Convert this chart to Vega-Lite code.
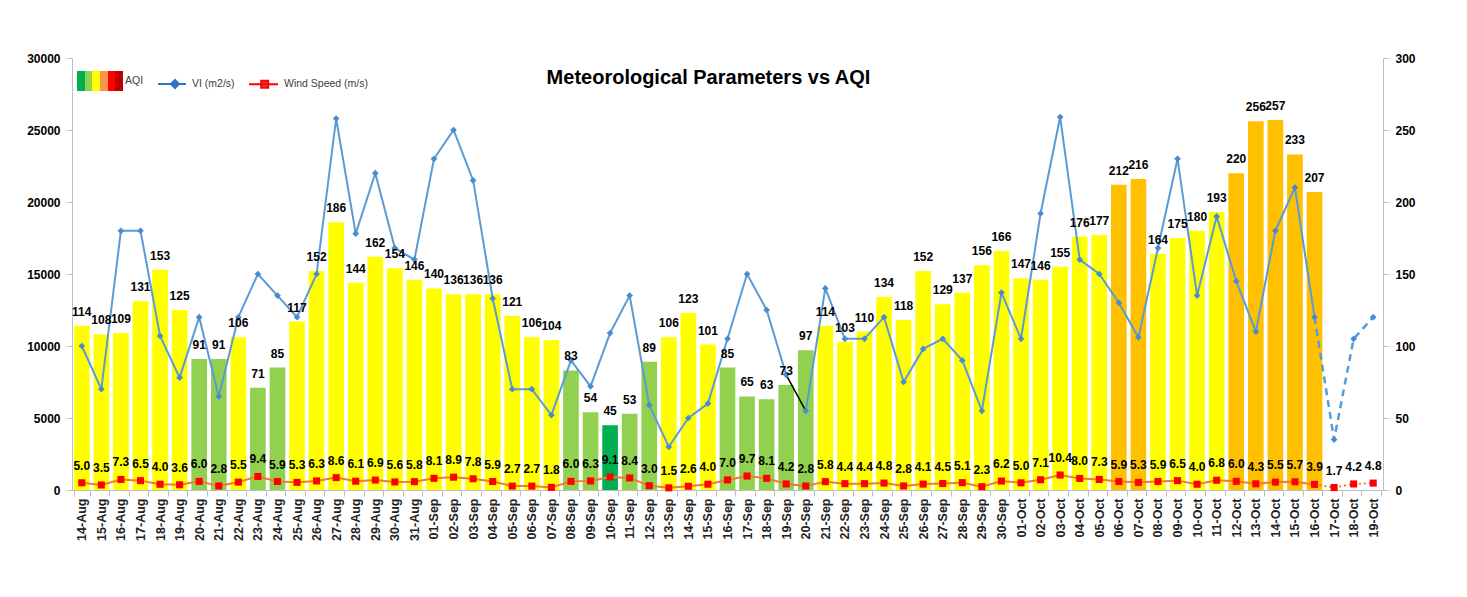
{
  "$schema": "https://vega.github.io/schema/vega-lite/v6.json",
  "width": 1311,
  "height": 432,
  "autosize": "none",
  "padding": {"left": 72, "top": 58, "right": 84, "bottom": 107},
  "background": "white",
  "title": {"text": "Meteorological Parameters vs AQI", "anchor": "middle", "orient": "top", "offset": 0, "dy": 52, "baseline": "alphabetic", "dx": -19, "font": "Liberation Sans", "fontSize": 20, "fontWeight": "bold", "color": "#000000"},
  "config": {
    "view": {"stroke": null},
    "axis": {"grid": false, "domainColor": "#BFBFBF", "tickColor": "#BFBFBF", "labelFont": "Liberation Sans", "labelFontWeight": "bold", "labelColor": "#000000", "titleFontSize": 0}
  },
  "datasets": {
    "main": [
      {"d":"14-Aug","i":0,"aqi":114,"band":"Moderate","vi":10000,"ws":5.0},
      {"d":"15-Aug","i":1,"aqi":108,"band":"Moderate","vi":7000,"ws":3.5},
      {"d":"16-Aug","i":2,"aqi":109,"band":"Moderate","vi":18000,"ws":7.3},
      {"d":"17-Aug","i":3,"aqi":131,"band":"Moderate","vi":18000,"ws":6.5},
      {"d":"18-Aug","i":4,"aqi":153,"band":"Moderate","vi":10700,"ws":4.0},
      {"d":"19-Aug","i":5,"aqi":125,"band":"Moderate","vi":7800,"ws":3.6},
      {"d":"20-Aug","i":6,"aqi":91,"band":"Satisfactory","vi":12000,"ws":6.0},
      {"d":"21-Aug","i":7,"aqi":91,"band":"Satisfactory","vi":6500,"ws":2.8},
      {"d":"22-Aug","i":8,"aqi":106,"band":"Moderate","vi":12000,"ws":5.5},
      {"d":"23-Aug","i":9,"aqi":71,"band":"Satisfactory","vi":15000,"ws":9.4},
      {"d":"24-Aug","i":10,"aqi":85,"band":"Satisfactory","vi":13500,"ws":5.9},
      {"d":"25-Aug","i":11,"aqi":117,"band":"Moderate","vi":12000,"ws":5.3},
      {"d":"26-Aug","i":12,"aqi":152,"band":"Moderate","vi":15000,"ws":6.3},
      {"d":"27-Aug","i":13,"aqi":186,"band":"Moderate","vi":25800,"ws":8.6},
      {"d":"28-Aug","i":14,"aqi":144,"band":"Moderate","vi":17800,"ws":6.1},
      {"d":"29-Aug","i":15,"aqi":162,"band":"Moderate","vi":22000,"ws":6.9},
      {"d":"30-Aug","i":16,"aqi":154,"band":"Moderate","vi":16800,"ws":5.6},
      {"d":"31-Aug","i":17,"aqi":146,"band":"Moderate","vi":16000,"ws":5.8},
      {"d":"01-Sep","i":18,"aqi":140,"band":"Moderate","vi":23000,"ws":8.1},
      {"d":"02-Sep","i":19,"aqi":136,"band":"Moderate","vi":25000,"ws":8.9},
      {"d":"03-Sep","i":20,"aqi":136,"band":"Moderate","vi":21500,"ws":7.8},
      {"d":"04-Sep","i":21,"aqi":136,"band":"Moderate","vi":13300,"ws":5.9},
      {"d":"05-Sep","i":22,"aqi":121,"band":"Moderate","vi":7000,"ws":2.7},
      {"d":"06-Sep","i":23,"aqi":106,"band":"Moderate","vi":7000,"ws":2.7},
      {"d":"07-Sep","i":24,"aqi":104,"band":"Moderate","vi":5200,"ws":1.8},
      {"d":"08-Sep","i":25,"aqi":83,"band":"Satisfactory","vi":9000,"ws":6.0},
      {"d":"09-Sep","i":26,"aqi":54,"band":"Satisfactory","vi":7200,"ws":6.3},
      {"d":"10-Sep","i":27,"aqi":45,"band":"Good","vi":10900,"ws":9.1},
      {"d":"11-Sep","i":28,"aqi":53,"band":"Satisfactory","vi":13500,"ws":8.4},
      {"d":"12-Sep","i":29,"aqi":89,"band":"Satisfactory","vi":5900,"ws":3.0},
      {"d":"13-Sep","i":30,"aqi":106,"band":"Moderate","vi":3000,"ws":1.5},
      {"d":"14-Sep","i":31,"aqi":123,"band":"Moderate","vi":5000,"ws":2.6},
      {"d":"15-Sep","i":32,"aqi":101,"band":"Moderate","vi":6000,"ws":4.0},
      {"d":"16-Sep","i":33,"aqi":85,"band":"Satisfactory","vi":10500,"ws":7.0},
      {"d":"17-Sep","i":34,"aqi":65,"band":"Satisfactory","vi":15000,"ws":9.7},
      {"d":"18-Sep","i":35,"aqi":63,"band":"Satisfactory","vi":12500,"ws":8.1},
      {"d":"19-Sep","i":36,"aqi":73,"band":"Satisfactory","vi":8000,"ws":4.2},
      {"d":"20-Sep","i":37,"aqi":97,"band":"Satisfactory","vi":5500,"ws":2.8},
      {"d":"21-Sep","i":38,"aqi":114,"band":"Moderate","vi":14000,"ws":5.8},
      {"d":"22-Sep","i":39,"aqi":103,"band":"Moderate","vi":10500,"ws":4.4},
      {"d":"23-Sep","i":40,"aqi":110,"band":"Moderate","vi":10500,"ws":4.4},
      {"d":"24-Sep","i":41,"aqi":134,"band":"Moderate","vi":12000,"ws":4.8},
      {"d":"25-Sep","i":42,"aqi":118,"band":"Moderate","vi":7500,"ws":2.8},
      {"d":"26-Sep","i":43,"aqi":152,"band":"Moderate","vi":9800,"ws":4.1},
      {"d":"27-Sep","i":44,"aqi":129,"band":"Moderate","vi":10500,"ws":4.5},
      {"d":"28-Sep","i":45,"aqi":137,"band":"Moderate","vi":9000,"ws":5.1},
      {"d":"29-Sep","i":46,"aqi":156,"band":"Moderate","vi":5500,"ws":2.3},
      {"d":"30-Sep","i":47,"aqi":166,"band":"Moderate","vi":13700,"ws":6.2},
      {"d":"01-Oct","i":48,"aqi":147,"band":"Moderate","vi":10500,"ws":5.0},
      {"d":"02-Oct","i":49,"aqi":146,"band":"Moderate","vi":19200,"ws":7.1},
      {"d":"03-Oct","i":50,"aqi":155,"band":"Moderate","vi":25900,"ws":10.4},
      {"d":"04-Oct","i":51,"aqi":176,"band":"Moderate","vi":16000,"ws":8.0},
      {"d":"05-Oct","i":52,"aqi":177,"band":"Moderate","vi":15000,"ws":7.3},
      {"d":"06-Oct","i":53,"aqi":212,"band":"Poor","vi":13000,"ws":5.9},
      {"d":"07-Oct","i":54,"aqi":216,"band":"Poor","vi":10600,"ws":5.3},
      {"d":"08-Oct","i":55,"aqi":164,"band":"Moderate","vi":16800,"ws":5.9},
      {"d":"09-Oct","i":56,"aqi":175,"band":"Moderate","vi":23000,"ws":6.5},
      {"d":"10-Oct","i":57,"aqi":180,"band":"Moderate","vi":13500,"ws":4.0},
      {"d":"11-Oct","i":58,"aqi":193,"band":"Moderate","vi":19000,"ws":6.8},
      {"d":"12-Oct","i":59,"aqi":220,"band":"Poor","vi":14500,"ws":6.0},
      {"d":"13-Oct","i":60,"aqi":256,"band":"Poor","vi":11000,"ws":4.3},
      {"d":"14-Oct","i":61,"aqi":257,"band":"Poor","vi":18000,"ws":5.5},
      {"d":"15-Oct","i":62,"aqi":233,"band":"Poor","vi":21000,"ws":5.7},
      {"d":"16-Oct","i":63,"aqi":207,"band":"Poor","vi":12000,"ws":3.9},
      {"d":"17-Oct","i":64,"aqi":null,"band":null,"vi":3500,"ws":1.7},
      {"d":"18-Oct","i":65,"aqi":null,"band":null,"vi":10500,"ws":4.2},
      {"d":"19-Oct","i":66,"aqi":null,"band":null,"vi":12000,"ws":4.8}
    ]
  },
  "data": {"name": "main"},
  "encoding": {
    "x": {
      "field": "d", "type": "ordinal", "title": null,
      "scale": {
        "domain": ["14-Aug","15-Aug","16-Aug","17-Aug","18-Aug","19-Aug","20-Aug","21-Aug","22-Aug","23-Aug","24-Aug","25-Aug","26-Aug","27-Aug","28-Aug","29-Aug","30-Aug","31-Aug","01-Sep","02-Sep","03-Sep","04-Sep","05-Sep","06-Sep","07-Sep","08-Sep","09-Sep","10-Sep","11-Sep","12-Sep","13-Sep","14-Sep","15-Sep","16-Sep","17-Sep","18-Sep","19-Sep","20-Sep","21-Sep","22-Sep","23-Sep","24-Sep","25-Sep","26-Sep","27-Sep","28-Sep","29-Sep","30-Sep","01-Oct","02-Oct","03-Oct","04-Oct","05-Oct","06-Oct","07-Oct","08-Oct","09-Oct","10-Oct","11-Oct","12-Oct","13-Oct","14-Oct","15-Oct","16-Oct","17-Oct","18-Oct","19-Oct"],
        "paddingInner": 0.2, "paddingOuter": 0.1
      },
      "axis": {"labelAngle": -90, "tickBand": "extent", "labelFontSize": 12.5, "labelColor": "#222222", "tickSize": 6, "labelPadding": 2, "title": null}
    }
  },
  "layer": [
    {
      "transform": [{"filter": {"field": "aqi", "valid": true}}],
      "mark": {"type": "bar"},
      "encoding": {
        "y": {"field": "aqi", "type": "quantitative", "scale": {"domain": [0, 300]}, "axis": {"orient": "right", "values": [0,50,100,150,200,250,300], "title": null, "labelFontSize": 12, "tickSize": 5, "labelPadding": 7}},
        "fill": {"field": "band", "type": "nominal", "scale": {"domain": ["Good","Satisfactory","Moderate","Poor"], "range": ["#00B050","#92D050","#FFFF00","#FFC000"]}, "legend": null}
      }
    },
    {
      "encoding": {
        "y": {"field": "vi", "type": "quantitative", "scale": {"domain": [0, 30000]}, "axis": {"orient": "left", "values": [0,5000,10000,15000,20000,25000,30000], "format": "d", "title": null, "labelFontSize": 12, "tickSize": 5, "labelPadding": 7}},
        "order": {"field": "i", "type": "quantitative"}
      },
      "layer": [
        {"transform": [{"filter": {"field": "i", "range": [0, 36]}}], "mark": {"type": "line", "color": "#5B9BD5", "strokeWidth": 2}},
        {"transform": [{"filter": {"field": "i", "range": [36, 37]}}], "mark": {"type": "line", "color": "#000000", "strokeWidth": 1.5}},
        {"transform": [{"filter": {"field": "i", "range": [37, 63]}}], "mark": {"type": "line", "color": "#5B9BD5", "strokeWidth": 2}},
        {"transform": [{"filter": {"field": "i", "range": [63, 66]}}], "mark": {"type": "line", "color": "#5B9BD5", "strokeWidth": 2.5, "strokeDash": [7, 5]}},
        {"mark": {"type": "point", "shape": "diamond", "filled": true, "color": "#4A8BCF", "size": 45, "opacity": 1}}
      ]
    },
    {
      "encoding": {
        "y": {"field": "ws", "type": "quantitative", "scale": {"domain": [0, 300]}, "axis": null},
        "order": {"field": "i", "type": "quantitative"}
      },
      "layer": [
        {"transform": [{"filter": {"field": "i", "range": [0, 63]}}], "mark": {"type": "line", "color": "#ED7D31", "strokeWidth": 2}},
        {"transform": [{"filter": {"field": "i", "range": [63, 66]}}], "mark": {"type": "line", "color": "#ED7D31", "strokeWidth": 2, "strokeDash": [2, 3]}},
        {"mark": {"type": "point", "shape": "square", "filled": true, "size": 50, "opacity": 1, "color": "#FF0000"}},
        {
          "mark": {"type": "point", "filled": true, "opacity": 0},
          "encoding": {
            "color": {
              "datum": "AQI",
              "scale": {"domain": ["AQI", "VI (m2/s)", "Wind Speed (m/s)"], "range": [
                {"expr": "{gradient: 'linear', x1: 0, y1: 0, x2: 1, y2: 0, stops: [{offset: 0, color: '#00B050'}, {offset: 0.1667, color: '#00B050'}, {offset: 0.1667, color: '#92D050'}, {offset: 0.3333, color: '#92D050'}, {offset: 0.3333, color: '#FFFF00'}, {offset: 0.5, color: '#FFFF00'}, {offset: 0.5, color: '#F79646'}, {offset: 0.6667, color: '#F79646'}, {offset: 0.6667, color: '#FF0000'}, {offset: 0.8333, color: '#FF0000'}, {offset: 0.8333, color: '#C00000'}, {offset: 1, color: '#C00000'}]}"},
                "#2E75C6", "#C0504D"]},
              "legend": {"orient": "none", "legendX": 30, "legendY": 12, "direction": "horizontal", "title": null, "padding": 0, "columnPadding": 10, "labelOffset": 1, "labelFont": "Liberation Sans", "labelFontSize": 10.5, "labelColor": "#404040", "symbolSize": 400, "symbolStrokeWidth": 2, "symbolOpacity": 1}
            },
            "shape": {
              "datum": "AQI",
              "scale": {"domain": ["AQI", "VI (m2/s)", "Wind Speed (m/s)"], "range": [
                "M-3.6,-1H1V1H-3.6Z",
                "M-2.2,0H0.6M-0.5,-0.4L-0.1,0L-0.5,0.4L-0.9,0Z",
                "M-2.3,0H0.6M-1.08,-0.35H-0.38V0.35H-1.08Z"]},
              "legend": {"orient": "none", "legendX": 30, "legendY": 12, "direction": "horizontal", "title": null, "padding": 0, "columnPadding": 10, "labelOffset": 1, "labelFont": "Liberation Sans", "labelFontSize": 10.5, "labelColor": "#404040", "symbolSize": 400, "symbolStrokeWidth": 2, "symbolOpacity": 1}
            },
            "stroke": {
              "datum": "AQI",
              "scale": {"domain": ["AQI", "VI (m2/s)", "Wind Speed (m/s)"], "range": ["transparent", "#2E75C6", "#FF0000"]},
              "legend": {"orient": "none", "legendX": 30, "legendY": 12, "direction": "horizontal", "title": null, "padding": 0, "columnPadding": 10, "labelOffset": 1, "labelFont": "Liberation Sans", "labelFontSize": 10.5, "labelColor": "#404040", "symbolSize": 400, "symbolStrokeWidth": 2, "symbolOpacity": 1}
            }
          }
        },
        {
          "mark": {"type": "text", "baseline": "alphabetic", "dy": -13, "font": "Liberation Sans", "fontSize": 12, "fontWeight": "bold", "color": "#000000"},
          "encoding": {"text": {"field": "ws", "type": "quantitative", "format": ".1f"}}
        },
        {
          "transform": [{"filter": {"field": "aqi", "valid": true}}],
          "mark": {"type": "text", "baseline": "alphabetic", "dy": -10, "font": "Liberation Sans", "fontSize": 12, "fontWeight": "bold", "color": "#000000"},
          "encoding": {
            "y": {"field": "aqi", "type": "quantitative", "axis": null},
            "text": {"field": "aqi", "type": "quantitative"}
          }
        }
      ]
    }
  ],
  "resolve": {"scale": {"y": "independent"}}
}
